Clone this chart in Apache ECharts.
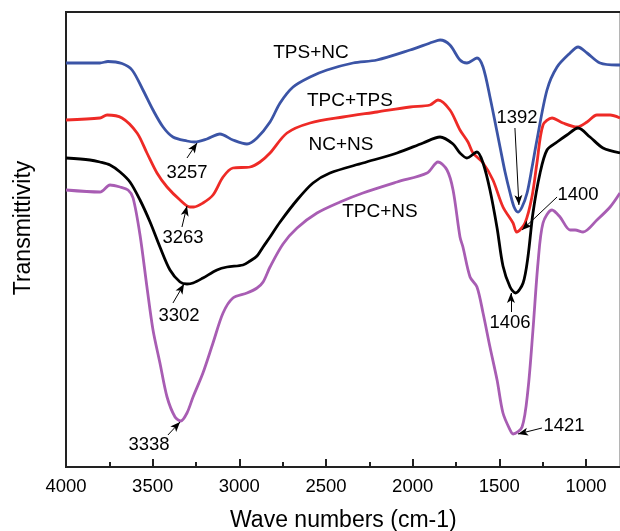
<!DOCTYPE html>
<html>
<head>
<meta charset="utf-8">
<script src="https://cdn.jsdelivr.net/npm/echarts@6/dist/echarts.min.js"></script>
<style>html,body{margin:0;padding:0;background:#fff}#c{width:620px;height:531px}</style>
</head>
<body>
<div id="c"></div>
<script>
// Wavenumber (cm-1) and relative transmittance (arbitrary units, offset curves)
const tpsNc = [[4000,404],[3804,404],[3758,405.5],[3677,403.5],[3619,397],[3556,377],[3498,357],[3440,340],[3383,330],[3302,326],[3257,325],[3187,328],[3112,333],[3037,327],[2956,323],[2898,329],[2823,345],[2765,364],[2690,380],[2592,390],[2494,397],[2344,404],[2206,407],[2015,417],[1883,425],[1842,427],[1785,422],[1727,407],[1687,404],[1629,409],[1594,400],[1554,370],[1496,320],[1467,295],[1438,274],[1415,260],[1392,255],[1369,260],[1340,274],[1312,299],[1283,327],[1225,377],[1167,400],[1092,414],[1046,420],[994,414],[919,404],[821,402],[804,402]];
const tpcTps = [[4000,347],[3804,349],[3763,352],[3677,349],[3590,334],[3533,314],[3475,294],[3417,280],[3342,267],[3285,260],[3263,260],[3210,264],[3152,272],[3094,290],[3037,299],[2938,300],[2881,305],[2823,314],[2725,334],[2592,344],[2402,350],[2206,355],[2015,360],[1900,362],[1854,367],[1785,357],[1727,337],[1681,325],[1652,314],[1594,304],[1537,287],[1479,260],[1421,244],[1400,235],[1352,244],[1312,270],[1283,304],[1248,342],[1196,349],[1133,344],[1052,340],[994,345],[937,352],[861,352],[804,349]];
const ncNs = [[4000,309],[3862,307],[3804,305],[3746,302],[3688,295],[3631,285],[3573,267],[3515,245],[3458,220],[3400,197],[3342,185],[3302,183],[3267,184],[3210,189],[3129,197],[3071,200],[2979,202],[2938,206],[2898,211],[2863,220],[2823,230],[2765,245],[2667,267],[2575,284],[2477,294],[2287,304],[2090,314],[1940,324],[1842,330],[1767,323],[1727,314],[1687,309],[1629,315],[1594,304],[1554,277],[1513,239],[1479,201],[1438,180],[1406,174],[1363,184],[1335,210],[1306,254],[1265,294],[1225,317],[1167,325],[1110,332],[1046,339],[977,330],[902,319],[804,314]];
const tpcNs = [[4000,277],[3804,275],[3746,282],[3688,280],[3642,277],[3613,269],[3573,232],[3533,180],[3498,137],[3458,104],[3417,70],[3371,50],[3338,46],[3302,54],[3267,70],[3210,94],[3152,124],[3094,154],[3037,169],[2956,174],[2898,179],[2863,185],[2823,200],[2748,223],[2667,239],[2552,254],[2419,265],[2287,274],[2090,285],[1917,294],[1854,305],[1802,297],[1767,277],[1727,230],[1710,220],[1669,190],[1629,180],[1594,154],[1554,120],[1513,87],[1479,54],[1438,37],[1421,33],[1369,40],[1335,77],[1306,137],[1277,204],[1248,244],[1196,257],[1150,250],[1092,237],[1063,237],[1017,235],[937,247],[861,260],[804,274]];

const seriesNames = ['TPS+NC','TPC+TPS','NC+NS','TPC+NS'];
const seriesColors = ['#3b54a6','#ee2a26','#000000','#a85db3'];

const majorTicks = [1000,1500,2000,2500,3000,3500,4000];
const minorTicks = [1250,1750,2250,2750,3250,3750];

// Curve name labels: [text, wavenumber, value]
const nameLabels = [['TPS+NC',2587,414],['TPC+TPS',2362,366],['NC+NS',2414,322],['TPC+NS',2189,255]];
// Peak annotations: [text, textX, textY, arrowFromX, arrowFromY, arrowToX, arrowToY]
const peakLabels = [
  ['3257',3302,294,3302,309,3244,324],
  ['3263',3325,229,3331,240,3302,261],
  ['3302',3348,151,3383,164,3319,183],
  ['3338',3521,22,3412,32,3342,45],
  ['1392',1398,349,1410,339,1387,262],
  ['1400',1046,272,1167,270,1369,237],
  ['1406',1438,144,1433,155,1433,174],
  ['1421',1127,41,1254,39,1392,33]
];

const FONT = '"Liberation Sans", Arial, sans-serif';
const chart = echarts.init(document.getElementById('c'), null, {renderer:'canvas'});

const textPoints = nameLabels.map(d => ({coord:[d[1],d[2]], label:{formatter:d[0], fontSize:19}}))
  .concat(peakLabels.map(d => ({coord:[d[1],d[2]], label:{formatter:d[0], fontSize:18.5}})));
const arrows = peakLabels.map(d => [
  {coord:[d[3],d[4]], symbol:'none'},
  {coord:[d[5],d[6]], symbol:'arrow', symbolSize:[6,10]}
]);
// short inward minor ticks on the bottom axis (y units are 1 px each)
const minorTickLines = minorTicks.map(v => [
  {coord:[v,0], symbol:'none'},
  {coord:[v,5], symbol:'none'}
]);

const allData = [tpsNc, tpcTps, ncNs, tpcNs];
const series = allData.map((data, i) => ({
  name: seriesNames[i], type:'line', data: data, showSymbol:false, smooth:0.3,
  xAxisIndex:0, yAxisIndex:0,
  lineStyle:{color:seriesColors[i], width:2.8}, itemStyle:{color:seriesColors[i]},
  emphasis:{disabled:true}, z: 2
}));
series.push({
  name:'annotations', type:'line', data:[], silent:true, z:5,
  markLine:{silent:true, animation:false, data:arrows, label:{show:false},
    lineStyle:{color:'#000', width:1, type:'solid'}, emphasis:{disabled:true}},
  markPoint:{silent:true, animation:false, symbol:'circle', symbolSize:0, data:textPoints,
    itemStyle:{color:'rgba(0,0,0,0)'},
    label:{show:true, position:'inside', color:'#000', fontFamily:FONT}}
});
series.push({
  name:'minorTicks', type:'line', data:[], silent:true, z:6,
  markLine:{silent:true, animation:false, data:minorTickLines, label:{show:false}, symbol:'none',
    lineStyle:{color:'#222', width:2, type:'solid'}, emphasis:{disabled:true}}
});

chart.setOption({
  animation:false,
  backgroundColor:'#fff',
  grid:{left:66, top:12, width:554.67, height:455, outerBoundsMode:'none', containLabel:false,
    show:true, borderColor:'#222', borderWidth:2, backgroundColor:'transparent'},
  xAxis:{
    type:'value', inverse:true, min:800, max:4000, position:'bottom',
    name:'Wave numbers (cm-1)', nameLocation:'middle', nameGap:42,
    nameTextStyle:{fontSize:23, color:'#000', fontFamily:FONT},
    axisLine:{show:true, lineStyle:{color:'#222', width:2}},
    axisTick:{show:true, inside:true, length:8, lineStyle:{color:'#222', width:2}, customValues:majorTicks},
    axisLabel:{show:true, margin:10, fontSize:18.5, color:'#000', fontFamily:FONT, customValues:majorTicks,
      formatter: v => String(v)},
    splitLine:{show:false}
  },
  yAxis:{
    type:'value', min:0, max:455,
    axisLine:{show:true, lineStyle:{color:'#222', width:2}},
    axisTick:{show:false}, axisLabel:{show:false}, splitLine:{show:false}
  },
  graphic:[{
    type:'text', x:24, y:228, rotation:Math.PI/2,
    style:{text:'Transmittivity', fontSize:23, fontFamily:FONT, fill:'#000', align:'center', verticalAlign:'middle'}
  }],
  series: series
});
</script>
</body>
</html>
